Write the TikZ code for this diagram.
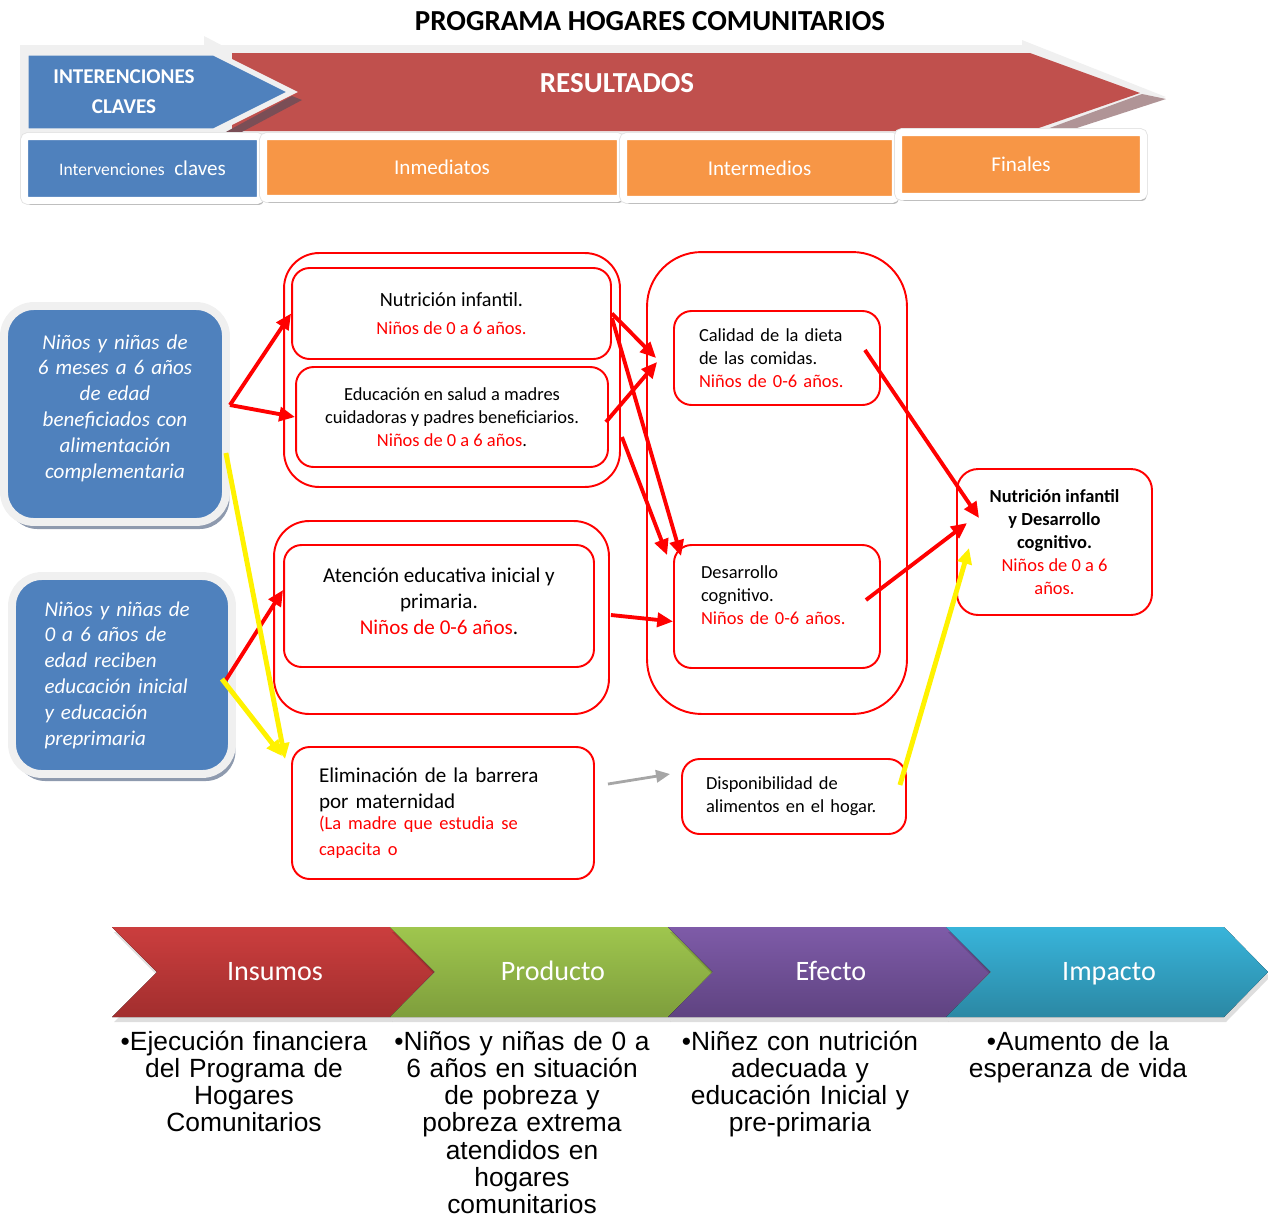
\documentclass[tikz,border=0pt]{standalone}
\usepackage{fontspec}
\setmainfont{Carlito}
\newfontfamily\arialfont{Liberation Sans}
\usetikzlibrary{arrows.meta, shadows}

\definecolor{azulpp}{HTML}{4F81BD}
\definecolor{rojopp}{HTML}{C0504D}
\definecolor{naranjapp}{HTML}{F79646}
\definecolor{marcopp}{HTML}{F0F0F0}
\definecolor{sombrarojo}{HTML}{B09496}
\definecolor{sombraazul}{HTML}{7A4E56}
\definecolor{sombracaja}{HTML}{8E9AAE}
\definecolor{insA}{HTML}{CB3E3E}
\definecolor{insB}{HTML}{A22E2E}
\definecolor{proA}{HTML}{9FC64E}
\definecolor{proB}{HTML}{7E9E3C}
\definecolor{efeA}{HTML}{7E5BA8}
\definecolor{efeB}{HTML}{5F4381}
\definecolor{impA}{HTML}{38B4DA}
\definecolor{impB}{HTML}{2B88A4}

\begin{document}
\begin{tikzpicture}[x=0.02cm, y=-0.02cm,
    redbox/.style={draw=red, line width=1.1pt, rounded corners=10pt, fill=white, inner sep=0pt, align=center},
    grupo/.style={draw=red, line width=1.1pt, rounded corners=20pt},
    azulbox/.style={fill=azulpp, draw=marcopp, line width=4.5pt, rounded corners=17pt, text=white,
      font=\itshape\fontsize{12}{14.7}\selectfont, inner sep=0pt,
      drop shadow={shadow xshift=2pt, shadow yshift=-4pt, fill=sombracaja, opacity=1}},
    cabecera/.style={draw=white, line width=4pt, rounded corners=2pt, text=white, inner sep=0pt,
      font=\fontsize{12}{14}\selectfont,
      preaction={draw=gray!22, line width=5pt},
      drop shadow={shadow xshift=1.5pt, shadow yshift=-2.5pt, opacity=0.45}},
    flecha/.style={-{Triangle[length=9pt,width=8pt]}, red, line width=2.2pt},
    flechaam/.style={-{Triangle[length=9pt,width=8pt]}, yellow, line width=2.8pt},
    flechagris/.style={-{Triangle[length=8pt,width=7pt]}, gray!70, line width=1.6pt},
    chevron/.style={anchor=base, text=white, font=\fontsize{16}{19}\selectfont},
    bala/.style={anchor=north, inner sep=0pt, align=center, text width=5.3cm,
      font=\arialfont\fontsize{15}{15.5}\selectfont}]
\useasboundingbox (0,0) rectangle (1268,1218);

% titulo
\node[font=\bfseries\fontsize{16.5}{20}\selectfont] (titulo) at (650,21) {PROGRAMA HOGARES COMUNITARIOS};

% flecha de cabecera
\fill[marcopp] (20,45) -- (1022,45) -- (1022,40) -- (1166,97) -- (1030,139) -- (20,139) -- cycle;
\fill[marcopp] (204,45) -- (204,36) -- (250,60) -- cycle;
\fill[sombrarojo] (1036,133) -- (1142,94) -- (1166,99) -- (1046,138) -- cycle;
\fill[rojopp] (232,53) -- (1030,53) -- (1140,93) -- (1030,131) -- (232,131) -- cycle;
\fill[sombraazul] (224,133) -- (292,96) -- (302,100) -- (238,134) -- cycle;
\filldraw[fill=azulpp, draw=marcopp, line width=3pt] (26,53) -- (214,53) -- (292,92) -- (214,131) -- (26,131) -- cycle;
\node[white, font=\bfseries\fontsize{12}{17}\selectfont, align=center] (flechainterv) at (124,92) {INTERENCIONES\\CLAVES};
\node[white, font=\bfseries\fontsize{16.5}{20}\selectfont] (flechares) at (617,83) {RESULTADOS};

% cabeceras
\node[cabecera, fill=azulpp, minimum width=4.72cm, minimum height=1.28cm] (cabinterv) at (142.5,168.5)
  {{\fontsize{10}{12}\selectfont Intervenciones}\ \ claves};
\node[cabecera, fill=naranjapp, minimum width=7.14cm, minimum height=1.24cm] (cabinmed) at (442,167.5) {Inmediatos};
\node[cabecera, fill=naranjapp, minimum width=5.44cm, minimum height=1.26cm] (cabinterm) at (759.5,168) {Intermedios};
\node[cabecera, fill=naranjapp, minimum width=4.9cm, minimum height=1.28cm] (cabfinal) at (1021,164.5) {Finales};

% grupos
\node[grupo, minimum width=6.72cm, minimum height=4.68cm] (grupo1) at (452,370) {};
\node[grupo, minimum width=6.7cm, minimum height=3.86cm] (grupo2) at (441.5,617.5) {};
\node[grupo, rounded corners=31pt, minimum width=5.2cm, minimum height=9.24cm] (grupo3) at (777,483) {};

% cajas
\node[redbox, minimum width=6.38cm, minimum height=1.82cm, font=\fontsize{11.5}{16.4}\selectfont] (nutri) at (451.5,313.5)
  {Nutrición infantil.\\\textcolor{red}{\fontsize{10.5}{13}\selectfont Niños de 0 a 6 años.}};
\node[redbox, minimum width=6.24cm, minimum height=2cm, font=\fontsize{10.5}{13}\selectfont] (educ) at (452,417)
  {Educación en salud a madres\\cuidadoras y padres beneficiarios.\\\textcolor{red}{Niños de 0 a 6 años}.};
\node[redbox, minimum width=6.2cm, minimum height=2.44cm, font=\fontsize{12}{14.7}\selectfont] (atenc) at (439,606)
  {Atención educativa inicial y\\primaria.\\\textcolor{red}{Niños de 0-6 años}.\\[-9pt]\mbox{}};
\node[redbox, align=left, text width=3.12cm, minimum width=4.12cm, minimum height=1.88cm, font=\fontsize{10.5}{13}\selectfont] (calid) at (777,358)
  {Calidad de la dieta\\de las comidas.\\\textcolor{red}{Niños de 0-6 años.}};
\node[redbox, align=left, text width=3.04cm, minimum width=4.12cm, minimum height=2.46cm, font=\fontsize{10.5}{13}\selectfont] (desarr) at (777,606.5)
  {Desarrollo\\cognitivo.\\\textcolor{red}{Niños de 0-6 años.}\\\mbox{}};
\node[redbox, rounded corners=12pt, minimum width=3.9cm, minimum height=2.92cm, font=\fontsize{10.5}{13}\selectfont] (final) at (1054.5,542)
  {\textbf{Nutrición infantil}\\\textbf{y Desarrollo}\\\textbf{cognitivo.}\\\textcolor{red}{Niños de 0 a 6}\\\textcolor{red}{años.}};
\node[redbox, align=left, text width=4.96cm, minimum width=6.04cm, minimum height=2.64cm, font=\fontsize{12}{14.7}\selectfont] (elim) at (443,813)
  {Eliminación de la barrera\\por maternidad\\[-1pt]
   \textcolor{red}{\fontsize{10.5}{13}\selectfont (La madre que estudia se\\capacita o}};
\node[redbox, align=left, text width=3.52cm, minimum width=4.48cm, minimum height=1.5cm, font=\fontsize{10.5}{13}\selectfont] (dispo) at (794,796.5)
  {Disponibilidad de\\alimentos en el hogar.};

% cajas azules
\node[azulbox, align=center, text width=3.9cm, minimum width=4.44cm, minimum height=4.32cm] (benef) at (115,414)
  {Niños y niñas de\\6 meses a 6 años\\de edad\\beneficiados con\\alimentación\\complementaria\\[-6pt]\mbox{}};
\node[azulbox, align=left, text width=3.1cm, minimum width=4.4cm, minimum height=3.96cm] (eduini) at (122,675)
  {Niños y niñas de\\0 a 6 años de\\edad reciben\\educación inicial\\y educación\\preprimaria};

% flechas
\draw[flecha] ([yshift=0.18cm]benef.east) -- (nutri.west);
\draw[flecha] ([yshift=0.18cm]benef.east) -- (educ.west);
\draw[flecha] (nutri.east) -- ([xshift=-0.34cm]calid.west);
\draw[flecha] ([yshift=-0.09cm]nutri.east) -- ([xshift=0.16cm,yshift=-0.24cm]desarr.north west);
\draw[flecha] ([xshift=-0.06cm,yshift=-0.1cm]educ.east) -- ([xshift=-0.32cm,yshift=-0.08cm]calid.west);
\draw[flecha] ([xshift=0.26cm,yshift=-0.4cm]educ.east) -- ([xshift=-0.12cm,yshift=-0.22cm]desarr.north west);
\draw[flecha] ([xshift=0.32cm,yshift=-0.18cm]atenc.east) -- ([yshift=-0.3cm]desarr.west);
\draw[flecha] ([xshift=-0.32cm,yshift=0.16cm]calid.east) -- ([xshift=0.46cm,yshift=0.48cm]final.west);
\draw[flecha] ([xshift=-0.3cm,yshift=0.13cm]desarr.east) -- ([xshift=0.22cm,yshift=0.38cm]final.west);
\draw[flecha] ([xshift=-0.2cm,yshift=-0.1cm]eduini.east) -- ([yshift=0.32cm]atenc.west);
\draw[flechagris] ([xshift=0.26cm,yshift=0.58cm]elim.east) -- ([xshift=-0.22cm,yshift=0.45cm]dispo.west);
\draw[flechaam] ([xshift=-0.14cm,yshift=0.23cm]dispo.east) -- ([xshift=0.26cm,yshift=-0.12cm]final.west);
\draw[flechaam] ([xshift=-0.08cm,yshift=-0.78cm]benef.east) -- ([xshift=-0.12cm,yshift=-0.26cm]elim.north west);
\draw[flechaam] ([xshift=-0.28cm,yshift=-0.08cm]eduini.east) -- ([xshift=-0.18cm,yshift=-0.2cm]elim.north west);

% cadena de resultados
\foreach \nom/\etq/\ca/\cb [count=\i from 0] in {insumos/Insumos/insA/insB, producto/Producto/proA/proB,
    efecto/Efecto/efeA/efeB, impacto/Impacto/impA/impB} {
  \fill[black, opacity=0.13] ({114+278*\i},932) -- ++(278,0) -- ++(44,45) -- ++(-44,45) -- ++(-278,0) -- ++(45,-45) -- cycle;
  \fill[top color=\ca, bottom color=\cb] ({112+278*\i},927) -- ++(278,0) -- ++(44,45) -- ++(-44,45) -- ++(-278,0) -- ++(45,-45) -- cycle;
  \node[chevron] (\nom) at ({275+278*\i},980) {\etq};
}

\node[bala] (balains) at (244,1027) {\vphantom{Ó}•Ejecución financiera\\del Programa de\\Hogares\\Comunitarios};
\node[bala] (balapro) at (522,1027) {\vphantom{Ó}•Niños y niñas de 0 a\\6 años en situación\\de pobreza y\\pobreza extrema\\atendidos en\\hogares\\comunitarios};
\node[bala] (balaefe) at (800,1027) {\vphantom{Ó}•Niñez con nutrición\\adecuada y\\educación Inicial y\\pre-primaria};
\node[bala] (balaimp) at (1078,1027) {\vphantom{Ó}•Aumento de la\\esperanza de vida};
\end{tikzpicture}
\end{document}
